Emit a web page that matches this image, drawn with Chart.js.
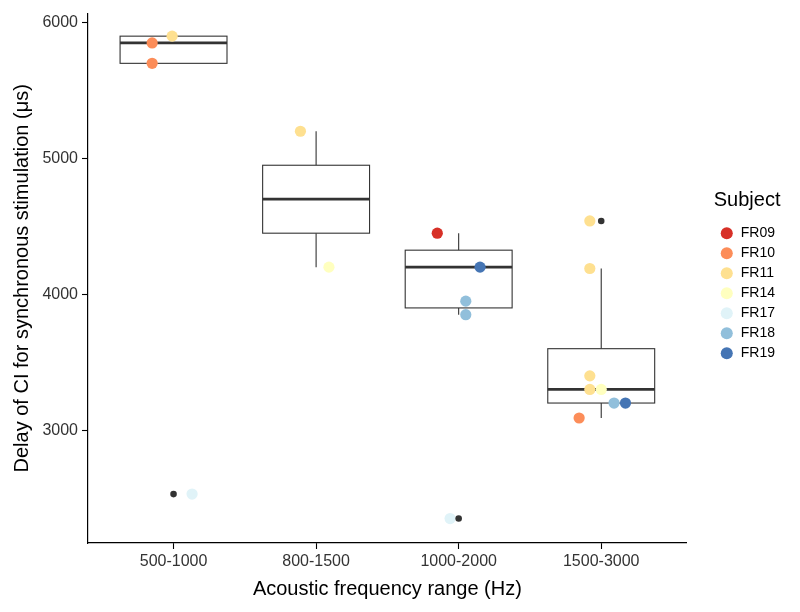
<!DOCTYPE html>
<html>
<head>
<meta charset="utf-8">
<script src="https://cdn.jsdelivr.net/npm/chart.js@4.4.0/dist/chart.umd.min.js"></script>
<style>
  html, body { margin: 0; padding: 0; background: #fff; }
  #wrap { width: 800px; height: 612px; }
</style>
</head>
<body>
<div id="wrap"><canvas id="myChart" width="800" height="612"></canvas></div>
<script>
// categories on the x axis
const categories = ['500-1000', '800-1500', '1000-2000', '1500-3000'];

// box statistics, one entry per category
const boxQ1 = [5700, 4450, 3900, 3200];
const boxMedian = [5850, 4700, 4200, 3300];
const boxQ3 = [5900, 4950, 4325, 3600];
const whiskerLow = [5700, 4200, 3850, 3090];
const whiskerHigh = [5900, 5200, 4450, 4190];

// outliers (group index starts at 1)
const outlierGroup = [1, 3, 4];
const outlierValue = [2530, 2350, 4540];

// subjects and their colours
const subjects = ['FR09', 'FR10', 'FR11', 'FR14', 'FR17', 'FR18', 'FR19'];
const subjectColors = ['#D73027', '#FC8D59', '#FEE090', '#FFFFBF', '#E0F3F8', '#91BFDB', '#4575B4'];

// jittered points
const pointSubject = ['FR09', 'FR10', 'FR10', 'FR10', 'FR11', 'FR11', 'FR11', 'FR11', 'FR11', 'FR11', 'FR14', 'FR14', 'FR17', 'FR17', 'FR18', 'FR18', 'FR18', 'FR19', 'FR19'];
const pointGroup   = [3, 1, 1, 4, 1, 2, 4, 4, 4, 4, 2, 4, 1, 3, 3, 3, 4, 3, 4];
const pointValue   = [4450, 5850, 5700, 3090, 5900, 5200, 4540, 4190, 3400, 3300, 4200, 3300, 2530, 2350, 3950, 3850, 3200, 4200, 3200];
const pointJitter  = [-0.15, -0.15, -0.15, -0.155, -0.01, -0.11, -0.08, -0.08, -0.08, -0.08, 0.09, 0.0, 0.13, -0.06, 0.05, 0.05, 0.09, 0.15, 0.17];

const yTicks = [3000, 4000, 5000, 6000];

const fontFam = '"Liberation Sans", Arial, sans-serif';
const boxHalf = 0.375;

// boxes are drawn under the points
const boxPlugin = {
  id: 'boxes',
  beforeDatasetsDraw(chart) {
    const ctx = chart.ctx;
    const xs = chart.scales.x, ys = chart.scales.y;
    ctx.save();
    ctx.strokeStyle = '#333333';
    for (let i = 0; i < categories.length; i++) {
      const c = i + 1;
      const xl = xs.getPixelForValue(c - boxHalf);
      const xr = xs.getPixelForValue(c + boxHalf);
      const xc = xs.getPixelForValue(c);
      const yq1 = ys.getPixelForValue(boxQ1[i]);
      const yq3 = ys.getPixelForValue(boxQ3[i]);
      const ymed = ys.getPixelForValue(boxMedian[i]);
      const ylo = ys.getPixelForValue(whiskerLow[i]);
      const yhi = ys.getPixelForValue(whiskerHigh[i]);
      ctx.lineWidth = 1.1;
      ctx.beginPath();
      ctx.moveTo(xc, yq3); ctx.lineTo(xc, yhi);
      ctx.moveTo(xc, yq1); ctx.lineTo(xc, ylo);
      ctx.stroke();
      ctx.fillStyle = '#ffffff';
      ctx.fillRect(xl, yq3, xr - xl, yq1 - yq3);
      ctx.strokeRect(xl, yq3, xr - xl, yq1 - yq3);
      ctx.lineWidth = 2.8;
      ctx.beginPath();
      ctx.moveTo(xl, ymed); ctx.lineTo(xr, ymed);
      ctx.stroke();
    }
    ctx.restore();
  }
};

// move the legend a bit right of the plot and center it on the plot height
const legendPlace = {
  id: 'legendPlace',
  afterLayout(chart) {
    const lg = chart.legend;
    const area = chart.chartArea;
    lg.left += 27;
    lg.right += 27;
    lg.top = area.top;
    lg.bottom = area.bottom;
    lg.height = area.bottom - area.top;
  }
};

const datasets = [{
  label: 'outliers',
  data: outlierGroup.map((g, i) => ({ x: g, y: outlierValue[i] })),
  backgroundColor: '#333333',
  borderWidth: 0,
  pointRadius: 3.3
}];
subjects.forEach((s, k) => {
  const pts = [];
  pointSubject.forEach((p, i) => {
    if (p === s) pts.push({ x: pointGroup[i] + pointJitter[i], y: pointValue[i] });
  });
  datasets.push({
    label: s,
    data: pts,
    backgroundColor: subjectColors[k],
    borderColor: subjectColors[k],
    borderWidth: 0,
    pointRadius: 5.6
  });
});

new Chart(document.getElementById('myChart'), {
  type: 'scatter',
  data: { datasets: datasets },
  plugins: [boxPlugin, legendPlace],
  options: {
    responsive: false,
    animation: false,
    layout: { padding: { left: 0, right: 42, top: 12, bottom: 0 } },
    plugins: {
      tooltip: { enabled: false },
      legend: {
        position: 'right',
        align: 'center',
        title: {
          display: true,
          text: 'Subject',
          color: '#000',
          font: { family: fontFam, size: 20 },
          padding: { top: 0, bottom: 6 },
          position: 'start'
        },
        labels: {
          filter: item => item.text !== 'outliers',
          usePointStyle: true,
          pointStyle: 'circle',
          boxWidth: 14,
          boxHeight: 8.5,
          padding: 6,
          color: '#000',
          font: { family: fontFam, size: 14 }
        }
      }
    },
    scales: {
      x: {
        type: 'linear',
        min: 0.4,
        max: 4.6,
        afterBuildTicks: axis => { axis.ticks = categories.map((c, i) => ({ value: i + 1 })); },
        afterFit: axis => { axis.height = 69; },
        ticks: {
          callback: v => categories[v - 1],
          color: '#333333',
          font: { family: fontFam, size: 16 },
          padding: 3,
          maxRotation: 0
        },
        grid: { drawOnChartArea: false, tickLength: 6, tickColor: '#000', tickWidth: 1.1 },
        border: { color: '#000', width: 1.2 },
        title: {
          display: true,
          text: 'Acoustic frequency range (Hz)',
          color: '#000',
          font: { family: fontFam, size: 20 },
          padding: { top: 4, bottom: 11 }
        }
      },
      y: {
        min: 2170,
        max: 6066,
        afterBuildTicks: axis => { axis.ticks = yTicks.map(v => ({ value: v })); },
        afterFit: axis => { axis.width = 88; },
        ticks: {
          callback: v => String(v),
          color: '#333333',
          font: { family: fontFam, size: 16 },
          padding: 4
        },
        grid: { drawOnChartArea: false, tickLength: 6, tickColor: '#000', tickWidth: 1.1 },
        border: { color: '#000', width: 1.2 },
        title: {
          display: true,
          text: 'Delay of CI for synchronous stimulation (μs)',
          color: '#000',
          font: { family: fontFam, size: 20 },
          padding: { top: 10, bottom: 4 }
        }
      }
    }
  }
});
</script>
</body>
</html>
